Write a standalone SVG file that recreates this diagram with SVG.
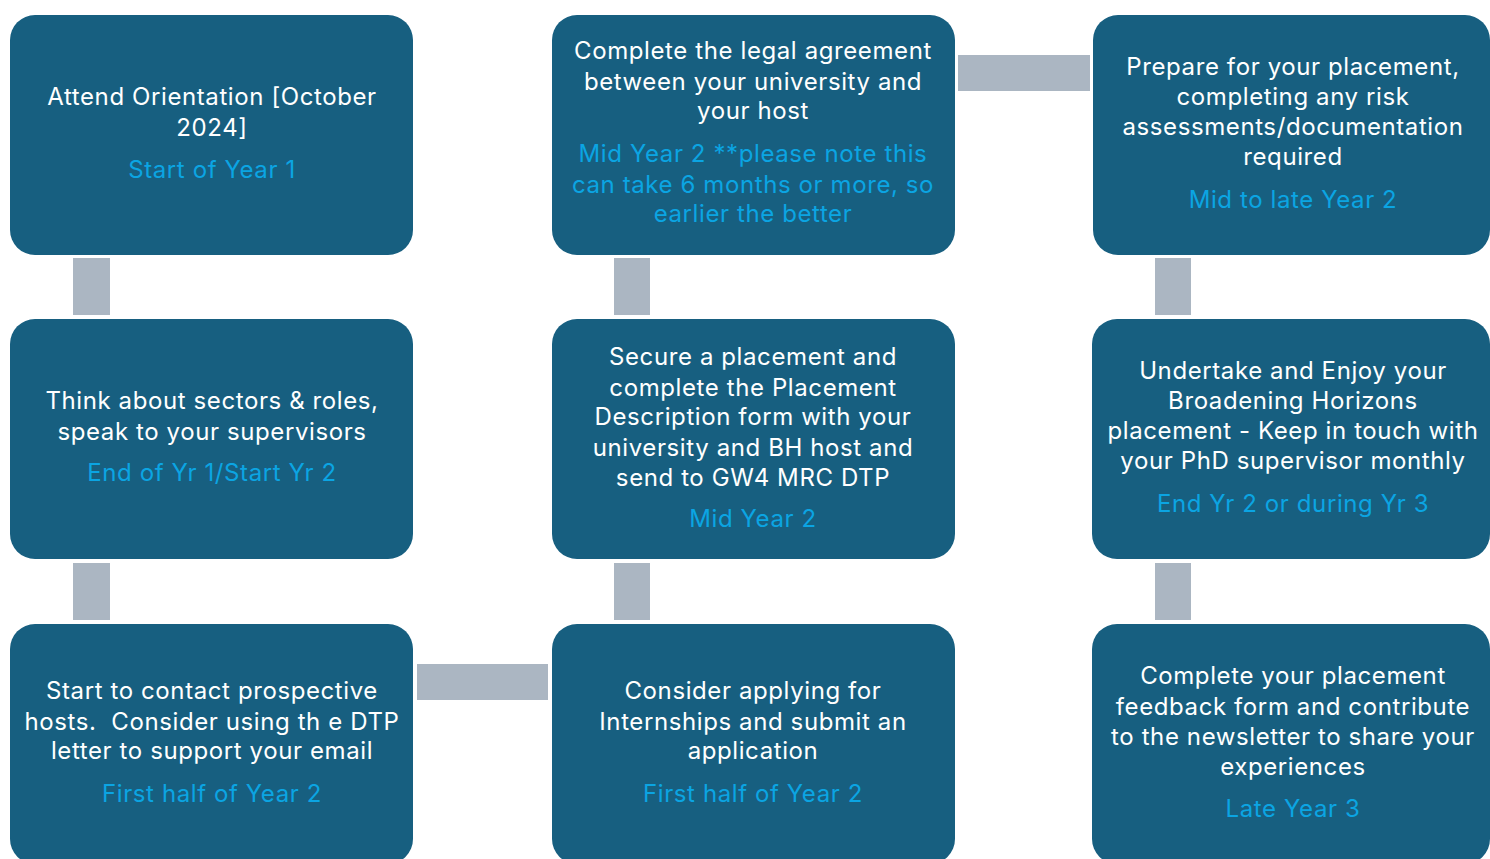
<svg xmlns="http://www.w3.org/2000/svg" width="1490" height="859" viewBox="0 0 1490 859">
<style>
.box{fill:#175F80;}
.conn{fill:#ABB6C2;}
text{font-family:Inter,"Open Sans","Liberation Sans",sans-serif;font-size:24px;letter-spacing:0.6px;text-anchor:middle;}
.t{fill:#FFFFFF;}
.h{fill:#0BA5E3;}
</style>
<rect width="1490" height="859" fill="#FFFFFF"/>
<g id="connectors">
<rect class="conn" x="73" y="258" width="37" height="57"/>
<rect class="conn" x="73" y="563" width="37" height="57"/>
<rect class="conn" x="614" y="258" width="36" height="57"/>
<rect class="conn" x="614" y="563" width="36" height="57"/>
<rect class="conn" x="1155" y="258" width="36" height="57"/>
<rect class="conn" x="1155" y="563" width="36" height="57"/>
<rect class="conn" x="958" y="55" width="132" height="36"/>
<rect class="conn" x="417" y="664" width="131" height="36"/>
</g>
<g id="n1">
<rect class="box" x="10" y="15" width="403" height="240" rx="25"/>
<text class="t" x="212" y="105">Attend Orientation [October</text>
<text class="t" x="212" y="136">2024]</text>
<text class="h" x="212" y="178">Start of Year 1</text>
</g>
<g id="n2">
<rect class="box" x="552" y="15" width="403" height="240" rx="25"/>
<text class="t" x="753" y="59">Complete the legal agreement</text>
<text class="t" x="753" y="90">between your university and</text>
<text class="t" x="753" y="119">your host</text>
<text class="h" x="753" y="162">Mid Year 2 **please note this</text>
<text class="h" x="753" y="193">can take 6 months or more, so</text>
<text class="h" x="753" y="222">earlier the better</text>
</g>
<g id="n3">
<rect class="box" x="1093" y="15" width="397" height="240" rx="25"/>
<text class="t" x="1293" y="75">Prepare for your placement,</text>
<text class="t" x="1293" y="105">completing any risk</text>
<text class="t" x="1293" y="135">assessments/documentation</text>
<text class="t" x="1293" y="165">required</text>
<text class="h" x="1293" y="208">Mid to late Year 2</text>
</g>
<g id="n4">
<rect class="box" x="10" y="319" width="403" height="240" rx="25"/>
<text class="t" x="212" y="409">Think about sectors &amp; roles,</text>
<text class="t" x="212" y="440">speak to your supervisors</text>
<text class="h" x="212" y="481">End of Yr 1/Start Yr 2</text>
</g>
<g id="n5">
<rect class="box" x="552" y="319" width="403" height="240" rx="25"/>
<text class="t" x="753" y="365">Secure a placement and</text>
<text class="t" x="753" y="396">complete the Placement</text>
<text class="t" x="753" y="425">Description form with your</text>
<text class="t" x="753" y="456">university and BH host and</text>
<text class="t" x="753" y="486">send to GW4 MRC DTP</text>
<text class="h" x="753" y="527">Mid Year 2</text>
</g>
<g id="n6">
<rect class="box" x="1092" y="319" width="398" height="240" rx="25"/>
<text class="t" x="1293" y="379">Undertake and Enjoy your</text>
<text class="t" x="1293" y="409">Broadening Horizons</text>
<text class="t" x="1293" y="439">placement - Keep in touch with</text>
<text class="t" x="1293" y="469">your PhD supervisor monthly</text>
<text class="h" x="1293" y="512">End Yr 2 or during Yr 3</text>
</g>
<g id="n7">
<rect class="box" x="10" y="624" width="403" height="240" rx="25"/>
<text class="t" x="212" y="699">Start to contact prospective</text>
<text class="t" x="212" y="730" xml:space="preserve">hosts.  Consider using th e DTP</text>
<text class="t" x="212" y="759">letter to support your email</text>
<text class="h" x="212" y="802">First half of Year 2</text>
</g>
<g id="n8">
<rect class="box" x="552" y="624" width="403" height="240" rx="25"/>
<text class="t" x="753" y="699">Consider applying for</text>
<text class="t" x="753" y="730">Internships and submit an</text>
<text class="t" x="753" y="759">application</text>
<text class="h" x="753" y="802">First half of Year 2</text>
</g>
<g id="n9">
<rect class="box" x="1092" y="624" width="398" height="240" rx="25"/>
<text class="t" x="1293" y="684">Complete your placement</text>
<text class="t" x="1293" y="715">feedback form and contribute</text>
<text class="t" x="1293" y="745">to the newsletter to share your</text>
<text class="t" x="1293" y="775">experiences</text>
<text class="h" x="1293" y="817">Late Year 3</text>
</g>
</svg>
